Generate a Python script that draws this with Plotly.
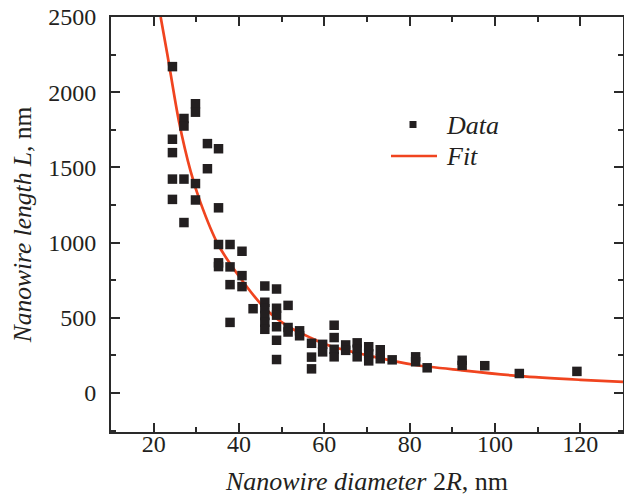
import plotly.graph_objects as go

# ---- data ----
data_d = [24.4, 24.4, 24.4, 24.4, 24.4,
          27.1, 27.1, 27.1, 27.1,
          29.8, 29.8, 29.8, 29.8,
          32.6, 32.6,
          35.2, 35.2, 35.2, 35.2, 35.2,
          37.9, 37.9, 37.9, 37.9,
          40.7, 40.7, 40.7,
          43.3,
          46.05, 46.05, 46.05, 46.05, 46.05, 46.05,
          48.8, 48.8, 48.8, 48.8, 48.8, 48.8,
          51.5, 51.5, 51.5,
          54.2, 54.2,
          57.0, 57.0, 57.0,
          59.6, 59.6,
          62.3, 62.3, 62.3, 62.3,
          65.0, 65.0,
          67.7, 67.7, 67.7,
          70.4, 70.4, 70.4,
          73.1, 73.1,
          75.9,
          81.4, 81.4,
          84.1,
          92.3, 92.3,
          97.6,
          105.7,
          119.2]
data_L = [2170, 1687, 1598, 1422, 1287,
          1825, 1775, 1422, 1133,
          1923, 1867, 1392, 1283,
          1658, 1491,
          1624, 1231, 987, 865, 840,
          987, 838, 720, 469,
          942, 780, 707,
          560,
          711, 603, 560, 515, 470, 423,
          691, 563, 517, 440, 350, 222,
          582, 435, 405,
          413, 380,
          330, 238, 160,
          323, 273,
          450, 368, 290, 240,
          319, 283,
          333, 290, 240,
          307, 260, 213,
          287, 227,
          220,
          240, 207,
          167,
          217, 183,
          181,
          129,
          143]

fit_d = [21.64, 23.2, 25.9, 28.7, 31.0, 35.1, 40.0, 46.0, 51.5, 57.0, 61.4, 70.4, 81.0, 92.3, 105.8, 120.0, 130.0]
fit_L = [2500, 2253, 1809, 1470, 1264, 987, 776, 565, 442, 364, 312, 248, 187, 150, 112, 87, 73]

x_ticks = [20, 40, 60, 80, 100, 120]
y_ticks = [0, 500, 1000, 1500, 2000, 2500]

FONT = "Liberation Serif"
INK = "#231f20"
RED = "#f0441f"

fig = go.Figure()
fig.add_trace(go.Scatter(
    x=fit_d, y=fit_L, mode="lines", name="Fit",
    line=dict(color=RED, width=2.7, shape="spline", smoothing=0.8),
    showlegend=False))
fig.add_trace(go.Scatter(
    x=data_d, y=data_L, mode="markers", name="Data",
    marker=dict(symbol="square", size=9.5, color=INK, line=dict(width=0)),
    showlegend=False))

# manual legend (paper coordinates)
L, T, W, H = 111, 17, 512, 415
def px(xp):
    return (xp - L) / W
def py(yp):
    return (T + H - yp) / H

fig.add_shape(type="rect", xref="paper", yref="paper",
              x0=px(409.5), x1=px(416.5), y0=py(128), y1=py(121),
              fillcolor=INK, line=dict(width=0))
fig.add_shape(type="line", xref="paper", yref="paper",
              x0=px(391), x1=px(437), y0=py(156), y1=py(156),
              line=dict(color=RED, width=2.7))
fig.add_annotation(xref="paper", yref="paper", x=px(444), y=py(125),
                   text="<i>Data</i>", showarrow=False, xanchor="left", yanchor="middle",
                   font=dict(family=FONT, size=26, color=INK))
fig.add_annotation(xref="paper", yref="paper", x=px(444), y=py(156),
                   text="<i>Fit</i>", showarrow=False, xanchor="left", yanchor="middle",
                   font=dict(family=FONT, size=26, color=INK))

axis_common = dict(
    showline=True, linecolor="#2a2a2a", linewidth=2, mirror="allticks",
    ticks="inside", ticklen=9, tickwidth=1.5, tickcolor="#2a2a2a",
    showgrid=False, zeroline=False,
    tickfont=dict(family=FONT, size=24, color=INK),
)

fig.update_xaxes(
    range=[10, 130], tickvals=x_ticks, ticktext=[str(v) for v in x_ticks],
    minor=dict(dtick=10, tick0=0, ticks="inside", ticklen=5, tickwidth=1.5, tickcolor="#2a2a2a", showgrid=False),
    ticklabelstandoff=-11,
    title=dict(text="<i>Nanowire diameter</i> 2<i>R</i>, nm",
               font=dict(family=FONT, size=26, color=INK), standoff=16),
    **axis_common)
fig.update_yaxes(
    range=[-260, 2500], tickvals=y_ticks, ticktext=[str(v) for v in y_ticks],
    minor=dict(dtick=250, tick0=0, ticks="inside", ticklen=5, tickwidth=1.5, tickcolor="#2a2a2a", showgrid=False),
    ticklabelstandoff=8,
    title=dict(text="<i>Nanowire length L</i>, nm",
               font=dict(family=FONT, size=25.5, color=INK), standoff=9),
    **axis_common)

fig.update_layout(
    width=624, height=497,
    margin=dict(l=L, r=624 - L - W, t=T, b=497 - T - H, autoexpand=False),
    paper_bgcolor="white", plot_bgcolor="white",
    showlegend=False,
)

fig.write_html("out.html", config={"displayModeBar": False},
               post_script="document.body.style.margin='0px';document.body.style.overflow='hidden';")
